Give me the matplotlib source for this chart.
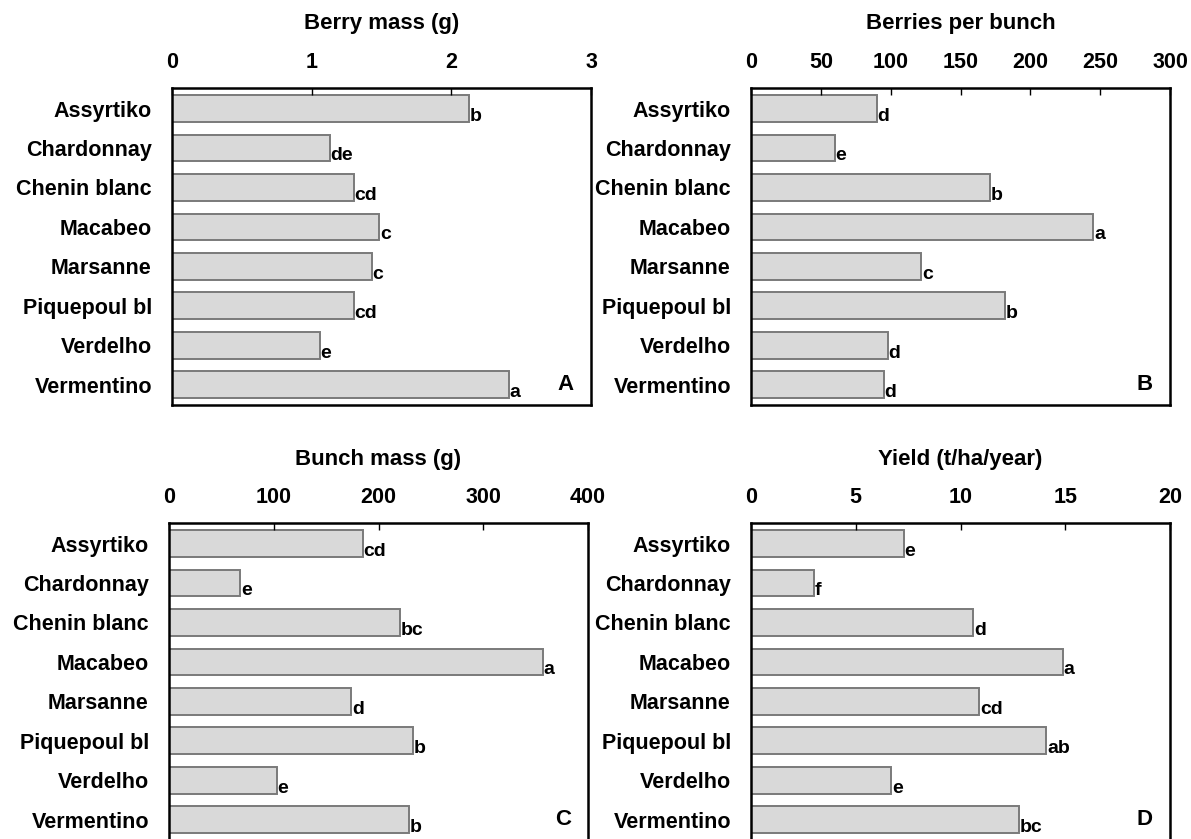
import matplotlib.pyplot as plt
import numpy as np

plt.rcParams['font.family'] = ['Liberation Sans', 'DejaVu Sans']
plt.rcParams['font.weight'] = 'bold'

cultivars = ['Assyrtiko', 'Chardonnay', 'Chenin blanc', 'Macabeo',
             'Marsanne', 'Piquepoul bl', 'Verdelho', 'Vermentino']

berry_mass = [2.13, 1.13, 1.30, 1.485, 1.43, 1.30, 1.06, 2.41]
berry_letters = ['b', 'de', 'cd', 'c', 'c', 'cd', 'e', 'a']

berries_per_bunch = [90, 60, 171, 245, 122, 182, 98, 95]
bpb_letters = ['d', 'e', 'b', 'a', 'c', 'b', 'd', 'd']

bunch_mass = [185, 68, 221, 357, 174, 233, 103, 229]
bunch_letters = ['cd', 'e', 'bc', 'a', 'd', 'b', 'e', 'b']

yield_t = [7.3, 3.0, 10.6, 14.9, 10.9, 14.1, 6.7, 12.8]
yield_letters = ['e', 'f', 'd', 'a', 'cd', 'ab', 'e', 'bc']

W, H = 1191, 839
fig = plt.figure(figsize=(W / 100, H / 100), dpi=100)

def panel(rect, values, letters, xmax, xticks, xlabel, tag):
    ax = fig.add_axes(rect)
    y = np.arange(len(cultivars))
    ax.barh(y, values, height=0.68, color='#d9d9d9', edgecolor='#7a7a7a', linewidth=1.4)
    for yi, v, lab in zip(y, values, letters):
        ax.annotate(lab, (v, yi + 0.2), xytext=(0.5, 0), textcoords='offset points',
                    ha='left', va='center', fontsize=14, fontweight='bold')
    ax.set_xlim(0, xmax)
    ax.set_ylim(len(cultivars) - 0.49, -0.52)
    ax.set_yticks(y)
    ax.set_yticklabels(cultivars)
    ax.set_xticks(xticks)
    ax.xaxis.tick_top()
    ax.xaxis.set_label_position('top')
    ax.set_xlabel(xlabel, fontsize=16, fontweight='bold', labelpad=16)
    ax.tick_params(axis='x', direction='in', length=5, width=1, pad=11, labelsize=15.5)
    ax.tick_params(axis='y', length=0, pad=14.5, labelsize=15.5)
    for s in ax.spines.values():
        s.set_linewidth(1.8)
    ax.text(0.94, 0.065, tag, transform=ax.transAxes, ha='center', va='center',
            fontsize=16, fontweight='bold')
    return ax

aw = 419 / W
ah = 317 / H
panel([172 / W, 1 - 405 / H, aw, ah], berry_mass, berry_letters, 3, [0, 1, 2, 3],
      'Berry mass (g)', 'A')
panel([751 / W, 1 - 405 / H, aw, ah], berries_per_bunch, bpb_letters, 300,
      [0, 50, 100, 150, 200, 250, 300], 'Berries per bunch', 'B')
panel([169 / W, 1 - 840 / H, aw, ah], bunch_mass, bunch_letters, 400,
      [0, 100, 200, 300, 400], 'Bunch mass (g)', 'C')
panel([751 / W, 1 - 840 / H, aw, ah], yield_t, yield_letters, 20,
      [0, 5, 10, 15, 20], 'Yield (t/ha/year)', 'D')

fig.savefig('out.png', dpi=100)
